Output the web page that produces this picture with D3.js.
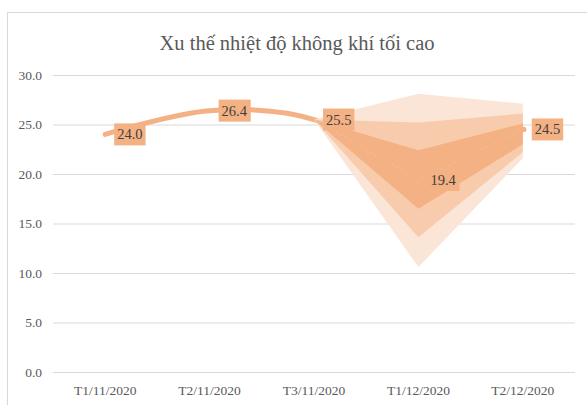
<!DOCTYPE html>
<html>
<head>
<meta charset="utf-8">
<script src="https://cdn.jsdelivr.net/npm/d3@7"></script>
<style>
  html, body { margin: 0; padding: 0; background: #fff; }
  svg { display: block; }
</style>
</head>
<body>
<svg id="chart" width="587" height="405"></svg>
<script>
const title = "Xu thế nhiệt độ không khí tối cao";
const categories = ["T1/11/2020", "T2/11/2020", "T3/11/2020", "T1/12/2020", "T2/12/2020"];
const values = [24.0, 26.4, 25.5, 19.4, 24.5];
const yTicks = [0, 5, 10, 15, 20, 25, 30];

// forecast fan (from T3/11/2020 onward)
const fanCategories = ["T3/11/2020", "T1/12/2020", "T2/12/2020"];
const fanCenter = [25.5, 19.4, 24.5];
const outerUpper = [25.5, 28.1, 27.1];
const outerLower = [25.5, 10.6, 21.6];
const midUpper = [25.5, 25.2, 26.1];
const midLower = [25.5, 13.6, 22.2];
const innerUpper = [25.5, 22.4, 25.1];
const innerLower = [25.5, 16.5, 23.0];

const svg = d3.select("#chart");
const plot = { left: 53, right: 575, top: 75, bottom: 372 };
const serif = "'Liberation Serif', 'Times New Roman', serif";

// chart border
svg.append("rect").attr("x", 7.5).attr("y", 12.5).attr("width", 600).attr("height", 420)
  .attr("fill", "#fff").attr("stroke", "#D9D9D9").attr("stroke-width", 1);

// title
svg.append("text").attr("x", 297).attr("y", 50).attr("text-anchor", "middle")
  .attr("font-family", serif).attr("font-size", 20.5).attr("fill", "#595959").text(title);

const x = d3.scaleBand().domain(categories).range([plot.left, plot.right]).padding(0);
const cx = c => x(c) + x.bandwidth() / 2;
const y = d3.scaleLinear().domain([0, 30]).range([plot.bottom, plot.top]);

// y axis with gridlines
const yAxis = svg.append("g").attr("transform", `translate(${plot.left},0)`)
  .call(d3.axisLeft(y).tickValues(yTicks).tickFormat(d3.format(".1f"))
    .tickSize(-(plot.right - plot.left)).tickPadding(11));
yAxis.select(".domain").remove();
yAxis.selectAll(".tick line").attr("stroke", "#D9D9D9").attr("stroke-width", 1);
yAxis.selectAll(".tick text").attr("fill", "#595959")
  .attr("font-family", serif).attr("font-size", 13.5);

// x axis labels
const xAxis = svg.append("g").attr("transform", `translate(0,${plot.bottom})`)
  .call(d3.axisBottom(x).tickSize(0).tickPadding(13));
xAxis.select(".domain").remove();
xAxis.selectAll(".tick text").attr("fill", "#595959")
  .attr("font-family", serif).attr("font-size", 13.5);

// main smoothed line
const line = d3.line().x((d, i) => cx(categories[i])).y(d => y(d)).curve(d3.curveCatmullRom.alpha(0.5));
svg.append("path").datum(values).attr("d", line)
  .attr("fill", "none").attr("stroke", "#F4B183").attr("stroke-width", 5)
  .attr("stroke-linecap", "round").attr("stroke-linejoin", "round");

// fan bands
const area = (up, lo) => d3.area()
  .x((d, i) => cx(fanCategories[i]))
  .y0((d, i) => y(lo[i]))
  .y1((d, i) => y(up[i]))(fanCategories);
svg.append("path").attr("d", area(outerUpper, outerLower)).attr("fill", "#FBE5D6");
svg.append("path").attr("d", area(midUpper, midLower)).attr("fill", "#F8CBAD");
svg.append("path").attr("d", area(innerUpper, innerLower)).attr("fill", "#F4B183");

// faint forecast line
const fline = d3.line().x((d, i) => cx(fanCategories[i])).y(d => y(d));
svg.append("path").datum(fanCenter).attr("d", fline)
  .attr("fill", "none").attr("stroke", "#F6C09A").attr("stroke-width", 1)
  .attr("stroke-dasharray", "2,3");

// end dot
svg.append("circle").attr("cx", cx(categories[4]) + 1).attr("cy", y(values[4])).attr("r", 2.6).attr("fill", "#F4B183");

// data labels
const lab = svg.append("g");
values.forEach((v, i) => {
  const px = cx(categories[i]), py = y(v);
  const g = lab.append("g");
  const t = g.append("text").attr("x", px + 12).attr("y", py + 5)
    .attr("font-family", serif).attr("font-size", 14.5).attr("fill", "#404040").text(v.toFixed(1));
  const bb = t.node().getBBox();
  g.insert("rect", "text").attr("x", bb.x - 3).attr("y", py - 11)
    .attr("width", bb.width + 6).attr("height", 22).attr("fill", "#F4B183");
});
</script>
</body>
</html>
